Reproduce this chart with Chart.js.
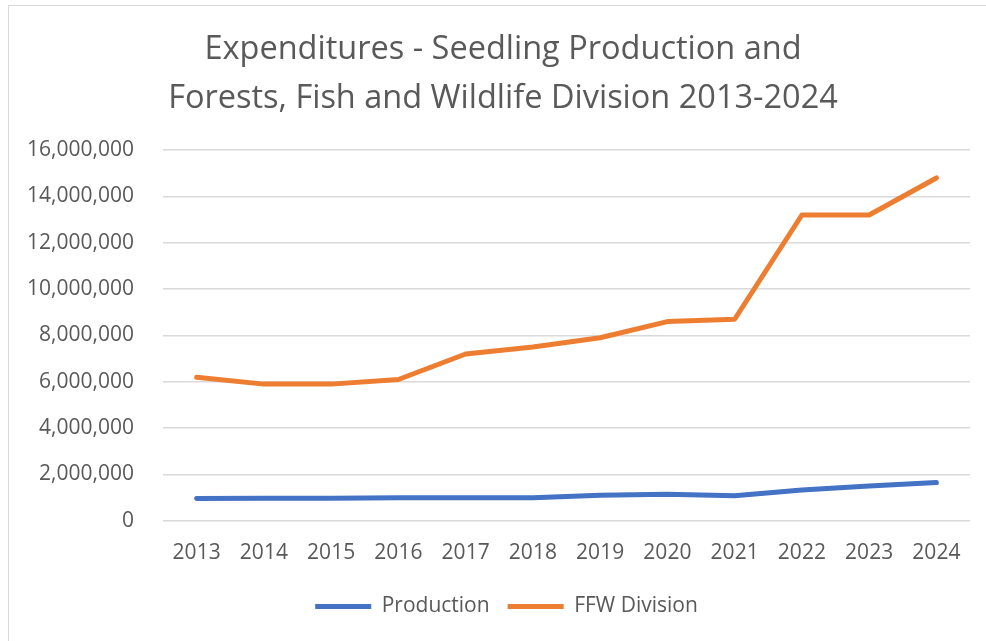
<!DOCTYPE html>
<html>
<head>
<meta charset="utf-8">
<script src="https://cdn.jsdelivr.net/npm/chart.js@4"></script>
<style>
html, body { margin: 0; padding: 0; background: #fff; }
#wrap { position: absolute; left: 0; top: 0; width: 986px; height: 641px; }
#frame { position: absolute; left: 8px; top: 5px; right: 0; bottom: 0; border-left: 1px solid #d9d9d9; border-top: 1px solid #d9d9d9; pointer-events: none; }
</style>
</head>
<body>
<div id="wrap">
<canvas id="grafico" width="986" height="641"></canvas>
<div id="frame"></div>
</div>
<script>
// datos
const years = ["2013","2014","2015","2016","2017","2018","2019","2020","2021","2022","2023","2024"];
const production = [960000, 970000, 975000, 990000, 1000000, 1000000, 1100000, 1150000, 1080000, 1330000, 1500000, 1650000];
const ffwDivision = [6200000, 5900000, 5900000, 6100000, 7200000, 7500000, 7900000, 8600000, 8700000, 13200000, 13200000, 14800000];
const titleLines = ["Expenditures - Seedling Production and", "Forests, Fish and Wildlife Division 2013-2024"];

const gris = "#595959";
const fuente = "'Open Sans', sans-serif";

// mover titulo y leyenda un poco a la derecha (como en el original)
const moverBloques = {
  id: "moverBloques",
  afterLayout(chart) {
    if (chart.titleBlock) chart.titleBlock.left += 16;
    if (chart.legend) chart.legend.left += 23;
  }
};

const ctx = document.getElementById("grafico").getContext("2d");

new Chart(ctx, {
  type: "line",
  data: {
    labels: years,
    datasets: [
      {
        label: "Production",
        data: production,
        borderColor: "#4472C4",
        backgroundColor: "#4472C4",
        borderWidth: 5,
        borderCapStyle: "round",
        borderJoinStyle: "round",
        pointRadius: 0,
        tension: 0
      },
      {
        label: "FFW Division",
        data: ffwDivision,
        borderColor: "#ED7D31",
        backgroundColor: "#ED7D31",
        borderWidth: 5,
        borderCapStyle: "round",
        borderJoinStyle: "round",
        pointRadius: 0,
        tension: 0
      }
    ]
  },
  plugins: [moverBloques],
  options: {
    responsive: false,
    animation: false,
    layout: { padding: { left: 20, right: 16, top: 25.5, bottom: 14 } },
    plugins: {
      title: {
        display: true,
        text: titleLines,
        color: gris,
        font: { family: fuente, size: 32.5, weight: "normal", lineHeight: 1.51 },
        padding: { top: 0, bottom: 26.5 }
      },
      legend: {
        position: "bottom",
        labels: {
          color: gris,
          font: { family: fuente, size: 21 },
          usePointStyle: true,
          pointStyle: "line",
          pointStyleWidth: 56,
          boxHeight: 5,
          padding: 18
        }
      },
      tooltip: { enabled: false }
    },
    scales: {
      x: {
        offset: true,
        grid: { display: false },
        border: { display: false },
        ticks: { color: gris, font: { family: fuente, size: 21 }, padding: 12, maxRotation: 0 }
      },
      y: {
        min: 0,
        max: 16000000,
        grid: { color: "#d9d9d9", lineWidth: 1.5, drawTicks: false },
        border: { display: false },
        afterFit: function(axis) { axis.width = 143; },
        ticks: {
          stepSize: 2000000,
          color: gris,
          font: { family: fuente, size: 21 },
          padding: 29,
          callback: function(v) { return v.toLocaleString("en-US"); }
        }
      }
    }
  }
});
</script>
</body>
</html>
